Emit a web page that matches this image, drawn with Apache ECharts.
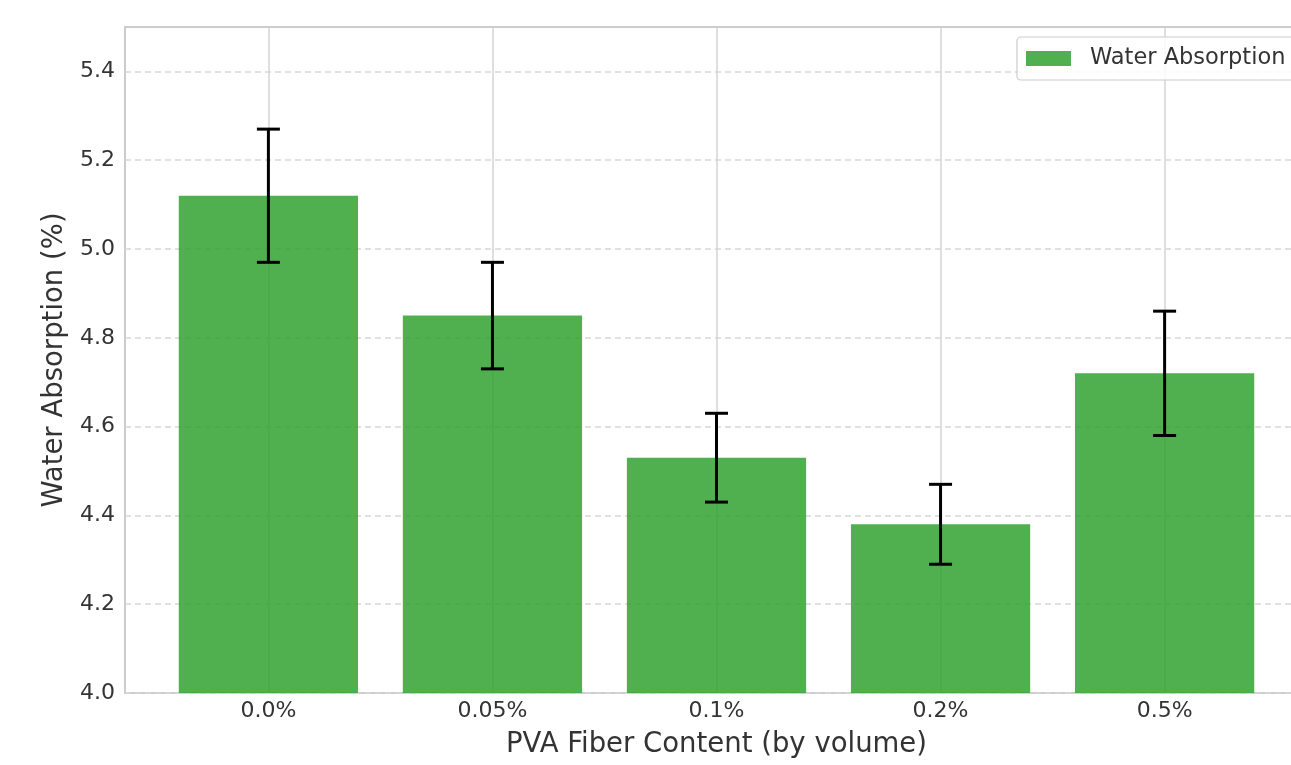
<!DOCTYPE html>
<html>
<head>
<meta charset="utf-8">
<script src="https://cdn.jsdelivr.net/npm/echarts@6/dist/echarts.min.js"></script>
<style>html,body{margin:0;padding:0;background:#fff}#c{width:1291px;height:765px}</style>
</head>
<body>
<div id="c"></div>
<script>
const categories = ['0.0%', '0.05%', '0.1%', '0.2%', '0.5%'];
const absorption = [5.12, 4.85, 4.53, 4.38, 4.72];
const errors = [0.15, 0.12, 0.10, 0.09, 0.14];
const yTicks = [4.0, 4.2, 4.4, 4.6, 4.8, 5.0, 5.2, 5.4];
const seriesName = 'Water Absorption';

const catIdx = categories.map((_, i) => i);
const barData = absorption.map((v, i) => [i, v, errors[i]]);
const barColor = 'rgba(44,160,44,0.83)';
const font = 'DejaVu Sans';

const chart = echarts.init(document.getElementById('c'));
chart.setOption({
  animation: false,
  backgroundColor: '#fff',
  grid: { left: 125, top: 27, width: 1183, height: 666, outerBoundsMode: 'none', containLabel: false,
    show: true, borderColor: '#cccccc', borderWidth: 2, backgroundColor: 'transparent' },
  legend: {
    left: 1017, top: 37,
    padding: [10, 9, 10, 9],
    borderColor: '#cccccc', borderWidth: 1.2, borderRadius: 4,
    backgroundColor: 'rgba(255,255,255,0.85)',
    itemWidth: 45, itemHeight: 15,
    textStyle: { fontFamily: font, fontSize: 22.5, color: '#333', padding: [0, 0, 0, 14] },
    data: [{ name: seriesName, icon: 'rect', itemStyle: { color: barColor } }]
  },
  xAxis: {
    type: 'value', min: -0.64, max: 4.64,
    name: 'PVA Fiber Content (by volume)', nameLocation: 'middle', nameGap: 38,
    nameTextStyle: { fontFamily: font, fontSize: 27.5, color: '#333' },
    axisLine: { show: false },
    axisTick: { show: false, customValues: catIdx },
    axisLabel: { customValues: catIdx, margin: 7, fontFamily: font, fontSize: 22, color: '#333',
      formatter: v => categories[Math.round(v)] },
    splitLine: { show: true, lineStyle: { color: '#d5d5d5', width: 1.5, type: 'solid' } }
  },
  yAxis: {
    type: 'value', min: 4.0, max: 5.5,
    name: 'Water Absorption (%)', nameLocation: 'middle', nameGap: 54,
    nameTextStyle: { fontFamily: font, fontSize: 27.5, color: '#333' },
    axisLine: { show: false },
    axisTick: { show: false, customValues: yTicks },
    axisLabel: { customValues: yTicks, margin: 10, fontFamily: font, fontSize: 22, color: '#333',
      formatter: v => v.toFixed(1) },
    splitLine: { show: true, lineStyle: { color: '#d8d8d8', width: 1.5, type: [6, 4] } }
  },
  series: [
    {
      name: seriesName, type: 'custom', z: 2,
      itemStyle: { color: barColor },
      data: barData,
      encode: { x: 0, y: 1 },
      renderItem: function (params, api) {
        const x = api.value(0), y = api.value(1);
        const p1 = api.coord([x - 0.4, y]);
        const p2 = api.coord([x + 0.4, 4.0]);
        return { type: 'rect', shape: { x: p1[0], y: p1[1], width: p2[0] - p1[0], height: p2[1] - p1[1] },
          style: { fill: barColor } };
      }
    },
    {
      name: 'err', type: 'custom', z: 3,
      data: barData,
      encode: { x: 0, y: 1 },
      renderItem: function (params, api) {
        const x = api.value(0), y = api.value(1), e = api.value(2);
        const top = api.coord([x, y + e]);
        const bot = api.coord([x, y - e]);
        const cap = 11.5;
        const st = { stroke: '#000', lineWidth: 3 };
        return { type: 'group', children: [
          { type: 'line', shape: { x1: top[0], y1: top[1], x2: bot[0], y2: bot[1] }, style: st },
          { type: 'line', shape: { x1: top[0] - cap, y1: top[1], x2: top[0] + cap, y2: top[1] }, style: st },
          { type: 'line', shape: { x1: bot[0] - cap, y1: bot[1], x2: bot[0] + cap, y2: bot[1] }, style: st }
        ] };
      }
    }
  ]
});
</script>
</body>
</html>
